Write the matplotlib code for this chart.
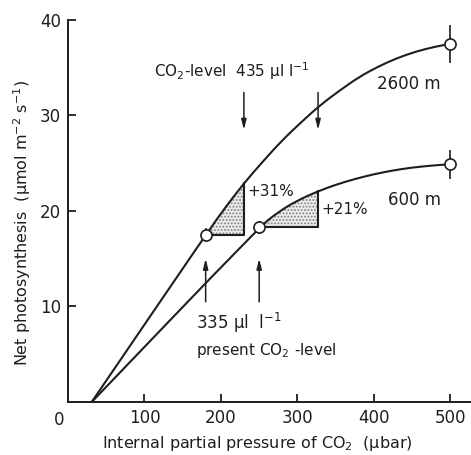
import numpy as np
import matplotlib
matplotlib.use("Agg")
import matplotlib.pyplot as plt
from matplotlib.path import Path
from matplotlib.patches import PathPatch

plt.rcParams['font.family'] = ['DejaVu Sans']
plt.rcParams['mathtext.default'] = 'regular'
plt.rcParams['hatch.linewidth'] = 0.9

# Response curves: internal CO2 partial pressure (µbar) vs net photosynthesis
ci_2600 = [31, 180, 205, 230, 255, 280, 305, 330, 355, 380, 405, 430, 455, 480, 500]
an_2600 = [0, 17.5, 20.3, 22.9, 25.2, 27.4, 29.3, 31.1, 32.6, 34.0, 35.1, 36.0, 36.7, 37.2, 37.5]

ci_600 = [31, 250, 275, 300, 325, 350, 375, 400, 425, 450, 475, 500]
an_600 = [0, 18.3, 19.9, 21.1, 22.0, 22.75, 23.35, 23.85, 24.25, 24.55, 24.75, 24.9]

# Measured points (mean ± error)
pts_2600_x = [180, 500]
pts_2600_y = [17.5, 37.5]
pts_2600_err = [0.7, 2.0]
pts_600_x = [250, 500]
pts_600_y = [18.3, 24.9]
pts_600_err = [0.7, 1.5]

# Present (335 µl/l) and elevated (435 µl/l) internal CO2 for each site
ci_present = [180, 250]
ci_future = [230, 327]
gain_pct = [31, 21]

x_ticks = [100, 200, 300, 400, 500]
y_ticks = [10, 20, 30, 40]

ink = '#1e1e1e'
fs = 12


def smooth_path(xs, ys):
    """Quadratic Bezier path through segment midpoints, anchored at both ends."""
    xs, ys = list(xs), list(ys)
    verts = [(xs[0], ys[0])]
    codes = [Path.MOVETO]
    mids = [((xs[i] + xs[i + 1]) / 2, (ys[i] + ys[i + 1]) / 2) for i in range(len(xs) - 1)]
    verts.append(mids[0]); codes.append(Path.LINETO)
    for i in range(1, len(xs) - 1):
        verts += [(xs[i], ys[i]), mids[i]]
        codes += [Path.CURVE3, Path.CURVE3]
    verts.append((xs[-1], ys[-1])); codes.append(Path.LINETO)
    return Path(verts, codes)


fig = plt.figure(figsize=(4.71, 4.55), dpi=100)
ax = fig.add_axes([0.1444, 0.1165, 0.8556, 0.8396])
ax.set_xlim(0, 527)
ax.set_ylim(0, 40)

for s in ['top', 'right']:
    ax.spines[s].set_visible(False)
for s in ['left', 'bottom']:
    ax.spines[s].set_linewidth(1.4)
    ax.spines[s].set_color(ink)

ax.set_xticks(x_ticks)
ax.set_yticks(y_ticks)
ax.tick_params(direction='in', length=6, width=1.3, colors=ink, labelsize=fs, pad=5)
ax.text(-12, -0.9, '0', ha='center', va='top', fontsize=fs, color=ink)

# Shaded gain regions between present and elevated CO2
curves = [(ci_2600, an_2600), (ci_600, an_600)]
for (cx, cy), x0, x1, pct in zip(curves, ci_present, ci_future, gain_pct):
    base = float(np.interp(x0, cx, cy))
    top = base * (1 + pct / 100)
    xs = [x0] + [v for v in cx if x0 < v < x1] + [x1]
    ys = [float(np.interp(v, cx, cy)) for v in xs[:-1]] + [top]
    poly_x = xs + [x1, x0]
    poly_y = ys + [base, base]
    ax.fill(poly_x, poly_y, facecolor='#ececec', edgecolor='#808080', linewidth=0,
            hatch='.....', zorder=1)
    ax.plot([x0, x1, x1], [base, base, top], color=ink, lw=1.5, zorder=2)

for cx, cy in curves:
    ax.add_patch(PathPatch(smooth_path(cx, cy), facecolor='none', edgecolor=ink,
                           lw=1.5, zorder=3))

for px, py, pe in [(pts_2600_x, pts_2600_y, pts_2600_err), (pts_600_x, pts_600_y, pts_600_err)]:
    ax.errorbar(px, py, yerr=pe, fmt='o', ms=8, mfc='white', mec=ink, mew=1.2,
                ecolor=ink, elinewidth=1.2, capsize=0, zorder=4)

# Arrows marking the elevated CO2 level
arrow_kw = dict(arrowstyle='-|>,head_length=0.6,head_width=0.15', color=ink, lw=1.1)
for xv in ci_future:
    ax.annotate('', xy=(xv, 28.2), xytext=(xv, 32.7), arrowprops=arrow_kw)
# Arrows marking the present CO2 level
for xv in ci_present:
    ax.annotate('', xy=(xv, 15.3), xytext=(xv, 10.2), arrowprops=arrow_kw)

ax.text(113, 34.6, r'CO$_2$-level  435 $\mu$l l$^{-1}$', fontsize=fs - 1, color=ink, va='center', ha='left')
ax.text(404, 33.3, '2600 m', fontsize=fs, color=ink, va='center', ha='left')
ax.text(418, 21.2, '600 m', fontsize=fs, color=ink, va='center', ha='left')
ax.text(234, 22.0, f'+{gain_pct[0]}%', fontsize=fs - 1, color=ink, va='center', ha='left')
ax.text(331, 20.2, f'+{gain_pct[1]}%', fontsize=fs - 1, color=ink, va='center', ha='left')
ax.text(168, 8.3, r'335 $\mu$l  l$^{-1}$', fontsize=fs, color=ink, va='center', ha='left')
ax.text(168, 5.4, r'present CO$_2$ -level', fontsize=fs - 1, color=ink, va='center', ha='left')

ax.set_xlabel(r'Internal partial pressure of CO$_2$  ($\mu$bar)', fontsize=fs - 0.5, color=ink, labelpad=3)
ax.xaxis.set_label_coords(0.47, -0.085)
ax.set_ylabel(r'Net photosynthesis  ($\mu$mol m$^{-2}$ s$^{-1}$)', fontsize=fs - 0.5, color=ink)
ax.yaxis.set_label_coords(-0.088, 0.47)

fig.savefig('out.png', dpi=100, facecolor='white')
